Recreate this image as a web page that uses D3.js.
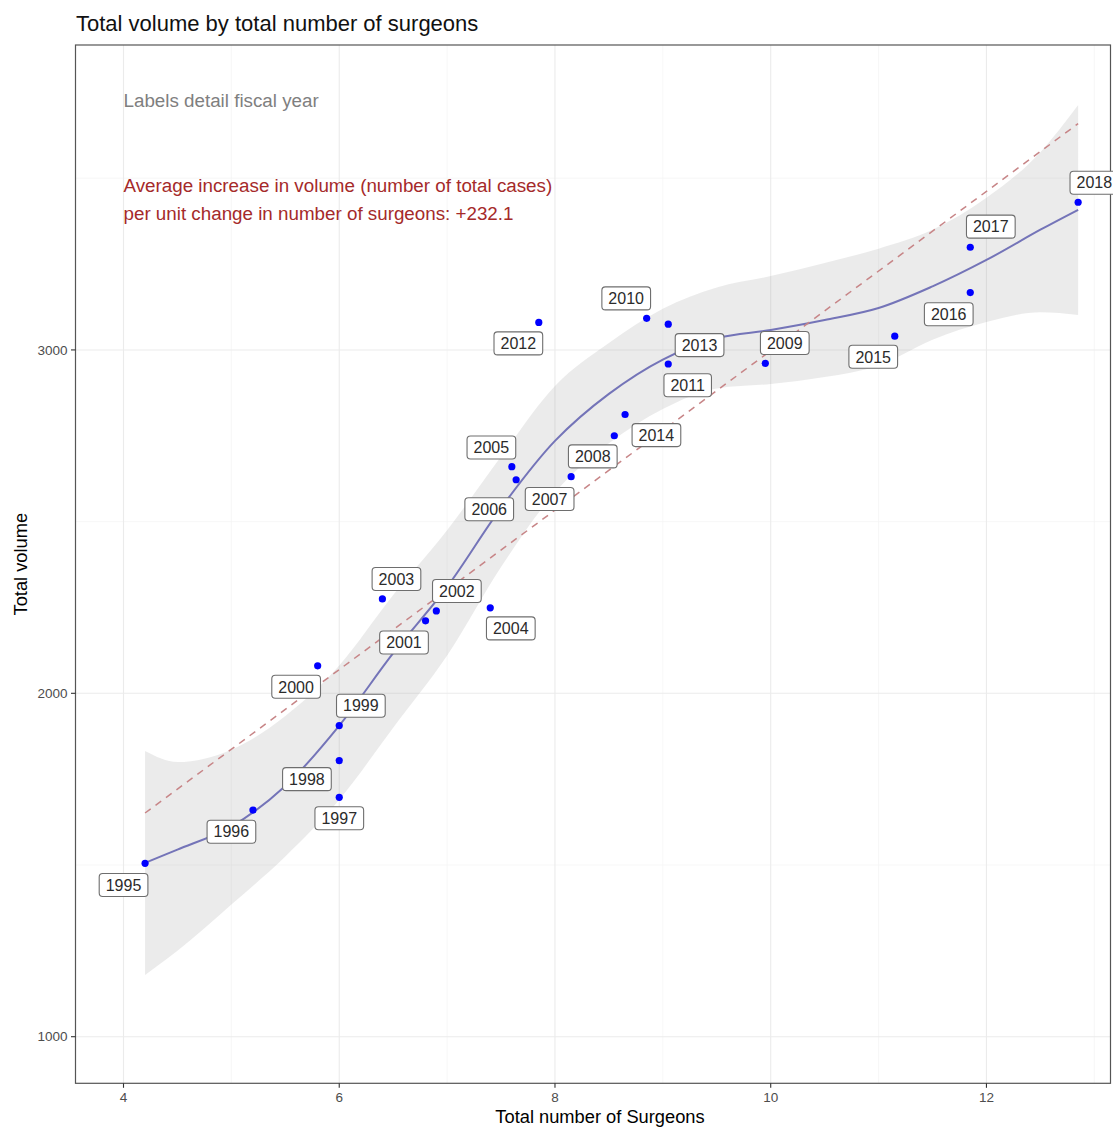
<!DOCTYPE html>
<meta charset="utf-8">
<style>
body { margin: 0; background: #fff; }
svg text { font-family: "Liberation Sans", Arial, Helvetica, sans-serif; }
.grid-major { stroke: #ebebeb; stroke-width: 1.1; }
.grid-minor { stroke: #f3f3f3; stroke-width: 0.7; }
.tick-label { fill: #4d4d4d; font-size: 13.5px; }
.axis-title { fill: #000; font-size: 18.3px; }
.band { fill: #999; fill-opacity: 0.2; }
.loess { fill: none; stroke: #7474b8; stroke-width: 2; }
.lm { fill: none; stroke: #c78587; stroke-width: 1.5; stroke-dasharray: 7,6; }
.dot { fill: #0000ff; }
.lab rect { fill: #fff; stroke: #6e6e6e; stroke-width: 1.1; }
.lab text { fill: #2b2b2b; font-size: 16px; }
</style>
<body>
<div id="chart"></div>
<script src="https://d3js.org/d3.v7.min.js"></script>
<script>
// fiscal years, surgeons (FTE) and total case volume
var years = [1995, 1996, 1997, 1998, 1999, 2000, 2001, 2002, 2003, 2004, 2005, 2006,
             2007, 2008, 2009, 2010, 2011, 2012, 2013, 2014, 2015, 2016, 2017, 2018];
var surgeons = [4.2, 5.2, 6.0, 6.0, 6.0, 5.8, 6.8, 6.9, 6.4, 7.4, 7.6, 7.64,
                8.15, 8.55, 9.95, 8.85, 9.05, 7.85, 9.05, 8.65, 11.15, 11.85, 11.85, 12.85];
var volume = [1505, 1660, 1697, 1804, 1906, 2080, 2211, 2240, 2275, 2249, 2660, 2622,
              2631, 2750, 2961, 3092, 2959, 3080, 3075, 2812, 3040, 3167, 3299, 3430];

// where the repelled labels ended up (data units)
var labelX = [4.0, 5.0, 6.0, 5.7, 6.2, 5.6, 6.6, 7.09, 6.53, 7.59, 7.41, 7.39,
              7.95, 8.35, 10.13, 8.66, 9.23, 7.66, 9.34, 8.94, 10.95, 11.65, 12.04, 13.0];
var labelY = [1442, 1597, 1636, 1750, 1964, 2019, 2148, 2298, 2333, 2189, 2716, 2536,
              2566, 2690, 3020, 3150, 2897, 3019, 3014, 2752, 2980, 3104, 3359, 3487];

// loess fit with its confidence band
var smoothX  = [4.2, 4.5, 5, 5.5, 6, 6.5, 7, 7.5, 8, 8.5, 9, 9.5, 10, 10.5, 11, 11.5, 12, 12.5, 12.85];
var smoothY  = [1506, 1545, 1612, 1730, 1906, 2117, 2310, 2540, 2735, 2872, 2972, 3034, 3058, 3087, 3122, 3185, 3262, 3350, 3408];
var smoothLo = [1180, 1250, 1385, 1525, 1690, 1900, 2110, 2368, 2585, 2728, 2828, 2888, 2901, 2921, 2955, 3030, 3081, 3110, 3102];
var smoothHi = [1832, 1800, 1836, 1934, 2081, 2286, 2475, 2690, 2895, 3020, 3120, 3182, 3215, 3253, 3295, 3350, 3443, 3576, 3713];

var slope = 232.1;

var xTicks = [4, 6, 8, 10, 12];
var xMinor = [5, 7, 9, 11, 13];
var yTicks = [1000, 2000, 3000];
var yMinor = [1500, 2500, 3500];

var W = 1113, H = 1130;
var margin = { top: 45, right: 2.5, bottom: 46.7, left: 75.5 };
var width = W - margin.left - margin.right,
    height = H - margin.top - margin.bottom;

var x = d3.scaleLinear().domain([3.555, 13.15]).range([0, width]);
var y = d3.scaleLinear().domain([864.3, 3888]).range([height, 0]);

var svg = d3.select("#chart").append("svg")
    .attr("width", W).attr("height", H);

svg.append("text")
    .attr("x", 76).attr("y", 31)
    .style("font-size", "22px").attr("fill", "#111")
    .text("Total volume by total number of surgeons");

var g = svg.append("g")
    .attr("transform", "translate(" + margin.left + "," + margin.top + ")");

// grid
g.selectAll(".gx2").data(xMinor).enter().append("line").attr("class", "grid-minor")
    .attr("x1", x).attr("x2", x).attr("y1", 0).attr("y2", height);
g.selectAll(".gy2").data(yMinor).enter().append("line").attr("class", "grid-minor")
    .attr("y1", y).attr("y2", y).attr("x1", 0).attr("x2", width);
g.selectAll(".gx").data(xTicks).enter().append("line").attr("class", "grid-major")
    .attr("x1", x).attr("x2", x).attr("y1", 0).attr("y2", height);
g.selectAll(".gy").data(yTicks).enter().append("line").attr("class", "grid-major")
    .attr("y1", y).attr("y2", y).attr("x1", 0).attr("x2", width);

// loess band + line
var smooth = smoothX.map(function(d, i) {
    return { x: d, y: smoothY[i], lo: smoothLo[i], hi: smoothHi[i] };
});
var crv = d3.curveCatmullRom.alpha(0.5);
g.append("path").datum(smooth).attr("class", "band")
    .attr("d", d3.area()
        .x(function(d) { return x(d.x); })
        .y0(function(d) { return y(d.lo); })
        .y1(function(d) { return y(d.hi); })
        .curve(d3.curveMonotoneX));
g.append("path").datum(smooth).attr("class", "loess")
    .attr("d", d3.line()
        .x(function(d) { return x(d.x); })
        .y(function(d) { return y(d.y); })
        .curve(crv));

// linear fit (dashed) through the means
var mx = d3.mean(surgeons), my = d3.mean(volume);
var icpt = my - slope * mx;
var xr = d3.extent(surgeons);
g.append("path").datum(xr).attr("class", "lm")
    .attr("d", d3.line()
        .x(function(d) { return x(d); })
        .y(function(d) { return y(icpt + slope * d); }));

// points
g.selectAll(".dot").data(years).enter().append("circle")
    .attr("class", "dot")
    .attr("cx", function(d, i) { return x(surgeons[i]); })
    .attr("cy", function(d, i) { return y(volume[i]); })
    .attr("r", 3.6);

// annotations
g.append("text")
    .attr("x", x(4)).attr("y", y(3728)).attr("dy", "0.35em")
    .style("font-size", "18.8px").attr("fill", "#7f7f7f")
    .text("Labels detail fiscal year");
var ann = g.append("text")
    .attr("x", x(4)).attr("y", y(3440))
    .style("font-size", "18.8px").attr("fill", "#a52a2a");
ann.append("tspan").attr("x", x(4)).attr("dy", "-0.35em")
    .text("Average increase in volume (number of total cases)");
ann.append("tspan").attr("x", x(4)).attr("dy", "1.45em")
    .text("per unit change in number of surgeons: +" + slope.toFixed(1));

// panel border
g.append("rect").attr("x", 0).attr("y", 0).attr("width", width).attr("height", height)
    .attr("fill", "none").attr("stroke", "#555").attr("stroke-width", 1.2);

// labels (ggrepel style)
var labs = g.selectAll(".lab").data(years).enter().append("g")
    .attr("class", "lab")
    .attr("transform", function(d, i) { return "translate(" + x(labelX[i]) + "," + y(labelY[i]) + ")"; });
labs.append("text").attr("text-anchor", "middle").attr("dy", "0.36em")
    .text(function(d) { return d; });
labs.each(function() {
    var t = d3.select(this).select("text").node().getBBox();
    d3.select(this).insert("rect", "text")
        .attr("x", t.x - 6.5).attr("y", -11.5)
        .attr("width", t.width + 13).attr("height", 23)
        .attr("rx", 3.5);
});

// axes: ticks + labels
g.selectAll(".xt").data(xTicks).enter().append("line")
    .attr("x1", x).attr("x2", x).attr("y1", height).attr("y2", height + 4.5)
    .attr("stroke", "#333").attr("stroke-width", 1.1);
g.selectAll(".xl").data(xTicks).enter().append("text").attr("class", "tick-label")
    .attr("x", x).attr("y", height + 19).attr("text-anchor", "middle")
    .text(function(d) { return d; });
g.selectAll(".yt").data(yTicks).enter().append("line")
    .attr("y1", y).attr("y2", y).attr("x1", -4.5).attr("x2", 0)
    .attr("stroke", "#333").attr("stroke-width", 1.1);
g.selectAll(".yl").data(yTicks).enter().append("text").attr("class", "tick-label")
    .attr("x", -8).attr("y", y).attr("dy", "0.35em").attr("text-anchor", "end")
    .text(function(d) { return d; });

svg.append("text").attr("class", "axis-title")
    .attr("x", 600).attr("y", 1123).attr("text-anchor", "middle")
    .text("Total number of Surgeons");
svg.append("text").attr("class", "axis-title")
    .attr("transform", "translate(27," + (margin.top + height / 2) + ") rotate(-90)")
    .attr("text-anchor", "middle")
    .text("Total volume");
</script>
</body>
